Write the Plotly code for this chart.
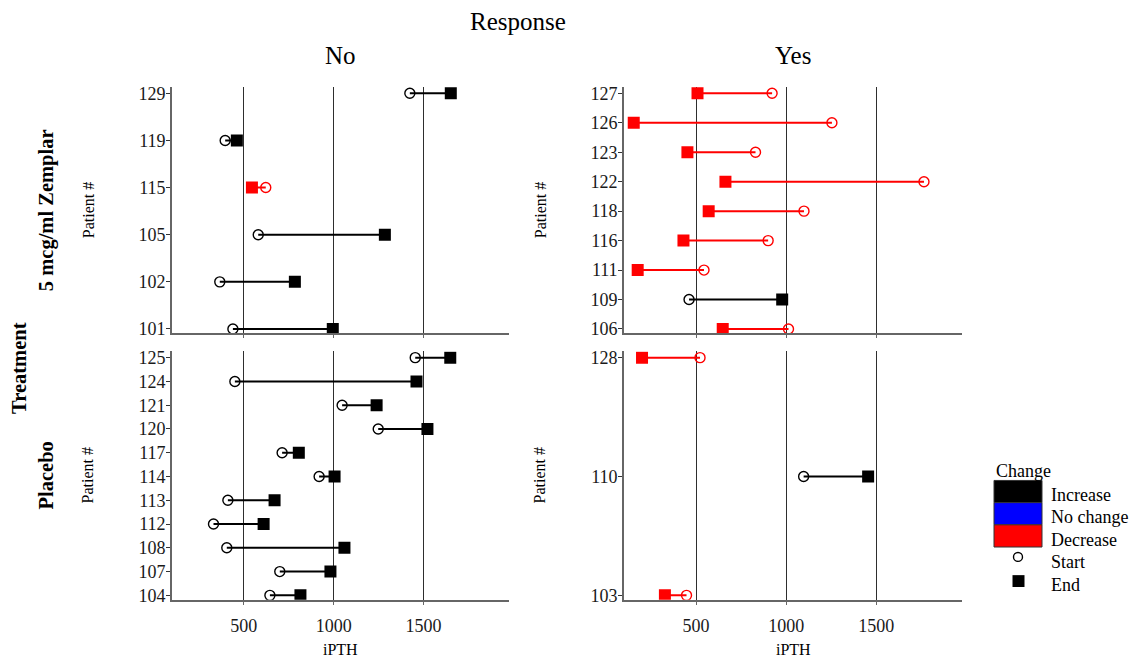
import plotly.graph_objects as go
from plotly.subplots import make_subplots

# iPTH measurements per patient: start and end of study
patient = ["101", "102", "105", "115", "119", "129",
           "106", "109", "111", "116", "118", "122", "123", "126", "127",
           "104", "107", "108", "112", "113", "114", "117", "120", "121", "124", "125",
           "103", "110", "128"]
treatment = (["5 mcg/ml Zemplar"] * 15) + (["Placebo"] * 14)
response = (["No"] * 6) + (["Yes"] * 9) + (["No"] * 11) + (["Yes"] * 3)
ipth_start = [439, 366, 580, 622, 396, 1424,
              1013, 461, 544, 900, 1099, 1765, 830, 1254, 922,
              645, 700, 405, 331, 411, 919, 713, 1248, 1047, 450, 1454,
              447, 1097, 522]
ipth_end = [995, 784, 1285, 545, 461, 1652,
            648, 978, 176, 430, 570, 663, 452, 154, 508,
            815, 982, 1060, 610, 671, 1005, 806, 1522, 1239, 1461, 1649,
            327, 1455, 200]

change_levels = ["Increase", "No change", "Decrease"]
change_colors = {"Increase": "#000000", "No change": "#0000FF", "Decrease": "#FF0000"}
row_levels = ["5 mcg/ml Zemplar", "Placebo"]
col_levels = ["No", "Yes"]
x_ticks = [500, 1000, 1500]
x_range = [100, 1976]

W, H = 1134, 664
FONT = "Liberation Serif"


def px(x):
    return x / W


def py(y):
    return 1 - y / H


def change_of(s, e):
    if e > s:
        return "Increase"
    if e < s:
        return "Decrease"
    return "No change"


# panel boxes in pixels (left, right, top, bottom)
col_px = [(172, 509), (624, 962)]
row_px = [(85, 335), (353, 605)]

fig = make_subplots(rows=2, cols=2)

for r, trt in enumerate(row_levels):
    for c, resp in enumerate(col_levels):
        idx = [i for i in range(len(patient)) if treatment[i] == trt and response[i] == resp]
        cats = sorted(patient[i] for i in idx)
        for lvl in change_levels:
            sel = [i for i in idx if change_of(ipth_start[i], ipth_end[i]) == lvl]
            if not sel:
                continue
            col = change_colors[lvl]
            lx, ly = [], []
            for i in sel:
                lx += [ipth_start[i], ipth_end[i], None]
                ly += [patient[i], patient[i], None]
            fig.add_trace(go.Scatter(x=lx, y=ly, mode="lines", line=dict(color=col, width=2),
                                     showlegend=False, hoverinfo="skip"), row=r + 1, col=c + 1)
        for lvl in change_levels:
            sel = [i for i in idx if change_of(ipth_start[i], ipth_end[i]) == lvl]
            if not sel:
                continue
            col = change_colors[lvl]
            fig.add_trace(go.Scatter(x=[ipth_start[i] for i in sel], y=[patient[i] for i in sel],
                                     mode="markers",
                                     marker=dict(symbol="circle-open", size=10, color=col,
                                                 line=dict(width=1.4, color=col)),
                                     showlegend=False), row=r + 1, col=c + 1)
            fig.add_trace(go.Scatter(x=[ipth_end[i] for i in sel], y=[patient[i] for i in sel],
                                     mode="markers",
                                     marker=dict(symbol="square", size=12, color=col,
                                                 line=dict(width=0)),
                                     showlegend=False), row=r + 1, col=c + 1)

        top, bot = row_px[r]
        n = len(cats)
        step = (bot - top - 12) / (n - 1)
        y_range = [-4.5 / step, n - 1 + 6.5 / step]
        left, right = col_px[c]
        fig.update_xaxes(domain=[px(left), px(right)], range=x_range, tickvals=x_ticks,
                         showgrid=True, gridcolor="#2e2e2e", gridwidth=1.2, zeroline=False,
                         showline=True, linecolor="#666666", linewidth=1.6,
                         ticks="outside", ticklen=3, tickcolor="#666666",
                         ticklabelstandoff=6,
                         showticklabels=(r == 1),
                         tickfont=dict(family=FONT, size=18, color="#1a1a1a"),
                         row=r + 1, col=c + 1)
        fig.update_yaxes(domain=[py(bot), py(top)], type="category",
                         categoryorder="array", categoryarray=cats, range=y_range,
                         showgrid=False, zeroline=False,
                         showline=True, linecolor="#666666", linewidth=1.6,
                         ticks="outside", ticklen=4, tickcolor="#333333",
                         ticklabelstandoff=-3,
                         tickfont=dict(family=FONT, size=18, color="#1a1a1a"),
                         row=r + 1, col=c + 1)

ann = []


def text(x, y, s, size, angle=0, bold=False, xanchor="center"):
    ann.append(dict(x=px(x), y=py(y), xref="paper", yref="paper", text=(f"<b>{s}</b>" if bold else s),
                    showarrow=False, textangle=angle, xanchor=xanchor, yanchor="middle",
                    font=dict(family=FONT, size=size, color="#000000")))


text(518, 19, "Response", 25)
for c, resp in enumerate(col_levels):
    mid = (col_px[c][0] + col_px[c][1]) / 2
    text(mid, 53, resp, 25)
    text(mid, 655, "iPTH", 16)
for r, trt in enumerate(row_levels):
    mid = (row_px[r][0] + row_px[r][1]) / 2
    text(46, mid, trt, 20.5, angle=-90, bold=True)
    text(88, mid, "Patient #", 16, angle=-90)
    text(540, mid, "Patient #", 16, angle=-90)
text(19, 370, "Treatment", 20.5, angle=-90, bold=True)

# legend built from shapes and text
shapes = []
text(994, 474.5, "Change", 18, xanchor="left")
box_top = 484
for k, lvl in enumerate(change_levels):
    y0 = box_top + k * 22.5
    shapes.append(dict(type="rect", xref="paper", yref="paper",
                       x0=px(994), x1=px(1042), y0=py(y0), y1=py(y0 + 22.5),
                       fillcolor=change_colors[lvl], line=dict(color="#333333", width=1)))
    text(1049, y0 + 15, lvl, 18, xanchor="left")
shapes.append(dict(type="circle", xref="paper", yref="paper",
                   x0=px(1013.5), x1=px(1022.5), y0=py(557), y1=py(566),
                   fillcolor="rgba(0,0,0,0)", line=dict(color="#000000", width=1.4)))
text(1049, 566.5, "Start", 18, xanchor="left")
shapes.append(dict(type="rect", xref="paper", yref="paper",
                   x0=px(1012.5), x1=px(1024.5), y0=py(580), y1=py(592),
                   fillcolor="#000000", line=dict(width=0)))
text(1049, 589.5, "End", 18, xanchor="left")

fig.update_layout(width=W, height=H, autosize=False,
                  margin=dict(l=0, r=0, t=0, b=0),
                  plot_bgcolor="white", paper_bgcolor="white",
                  showlegend=False, annotations=ann, shapes=shapes,
                  font=dict(family=FONT, color="#000000"))

fig.write_html("out.html")
